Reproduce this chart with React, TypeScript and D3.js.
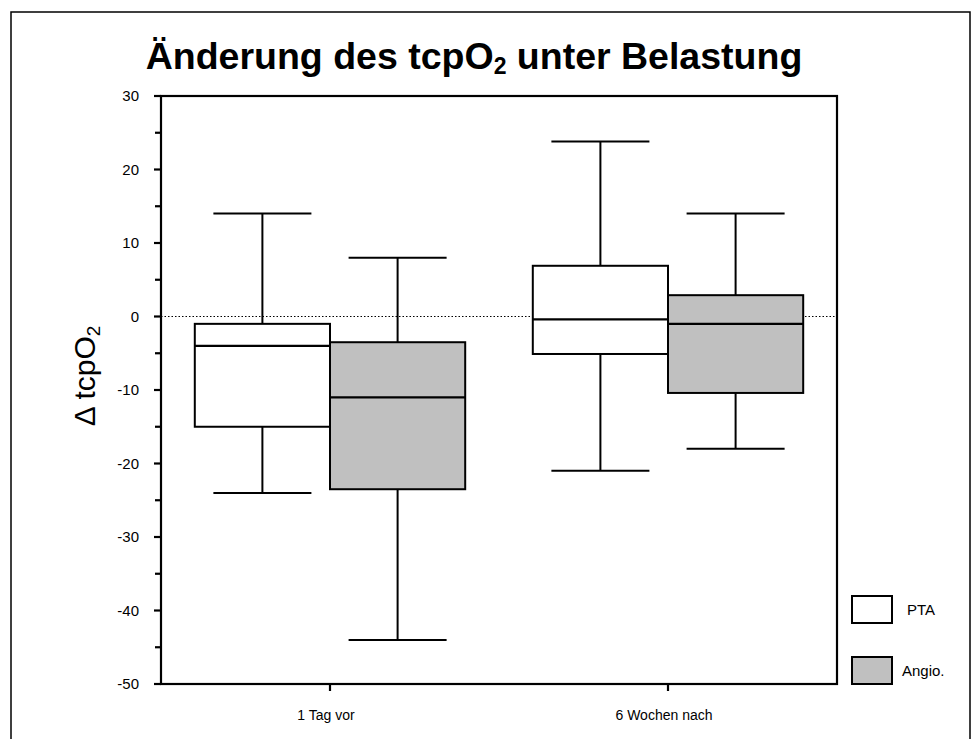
import React from "react";
import * as d3 from "d3";

const categories = ["1 Tag vor", "6 Wochen nach"];
const seriesNames = ["PTA", "Angio."];
const seriesFill = ["#ffffff", "#c0c0c0"];
// [whiskerLow, q1, median, q3, whiskerHigh] per category
const ptaStats = [
  [-24, -15, -4, -1, 14],
  [-21, -5.1, -0.4, 6.9, 23.8],
];
const angioStats = [
  [-44, -23.5, -11, -3.5, 8],
  [-18, -10.4, -1, 2.9, 14],
];
const yTicks = [30, 20, 10, 0, -10, -20, -30, -40, -50];
const yMinorTicks = [25, 15, 5, -5, -15, -25, -35, -45];

const W = 975;
const H = 739;
const M = { left: 161, right: 837, top: 96, bottom: 684 };
const FONT = "Liberation Sans, Arial, Helvetica, sans-serif";

export default function App() {
  const x0 = d3.scaleBand().domain(categories).range([M.left, M.right]).padding(0);
  const bw = x0.bandwidth();
  const x1 = d3.scaleBand().domain(seriesNames).range([bw * 0.1, bw * 0.9]).padding(0);
  const y = d3.scaleLinear().domain([-50, 30]).range([M.bottom, M.top]);
  const allStats = [ptaStats, angioStats];
  const boxW = x1.bandwidth();
  const capW = boxW * 0.725;

  return (
    <svg
      width={W}
      height={H}
      style={{ position: "absolute", left: 0, top: 0, fontFamily: FONT }}
    >
      <rect x={0} y={0} width={W} height={H} fill="#fff" />
      {/* outer frame */}
      <rect x={11} y={12} width={959} height={740} fill="none" stroke="#000" strokeWidth={1.5} />

      {/* title */}
      <text x={474} y={69} textAnchor="middle" fontSize={37.5} fontWeight="bold" fill="#000">
        Änderung des tcpO
        <tspan fontSize={23} dy={5}>2</tspan>
        <tspan dy={-5}> unter Belastung</tspan>
      </text>

      {/* zero line */}
      <line
        x1={M.left}
        x2={M.right}
        y1={y(0)}
        y2={y(0)}
        stroke="#000"
        strokeWidth={1}
        strokeDasharray="1.5,2"
      />

      {/* boxes */}
      {categories.map((cat, ci) =>
        seriesNames.map((s, si) => {
          const st = allStats[si][ci];
          const bx = (x0(cat) as number) + (x1(s) as number);
          const cx = bx + boxW / 2;
          return (
            <g key={cat + s}>
              <line x1={cx} x2={cx} y1={y(st[4])} y2={y(st[3])} stroke="#000" strokeWidth={2} />
              <line x1={cx} x2={cx} y1={y(st[1])} y2={y(st[0])} stroke="#000" strokeWidth={2} />
              <line x1={cx - capW / 2} x2={cx + capW / 2} y1={y(st[4])} y2={y(st[4])} stroke="#000" strokeWidth={2} />
              <line x1={cx - capW / 2} x2={cx + capW / 2} y1={y(st[0])} y2={y(st[0])} stroke="#000" strokeWidth={2} />
              <rect
                x={bx}
                y={y(st[3])}
                width={boxW}
                height={y(st[1]) - y(st[3])}
                fill={seriesFill[si]}
                stroke="#000"
                strokeWidth={2}
              />
              <line x1={bx} x2={bx + boxW} y1={y(st[2])} y2={y(st[2])} stroke="#000" strokeWidth={2.2} />
            </g>
          );
        })
      )}

      {/* plot frame */}
      <rect
        x={M.left}
        y={M.top}
        width={M.right - M.left}
        height={M.bottom - M.top}
        fill="none"
        stroke="#000"
        strokeWidth={2.2}
      />

      {/* y ticks */}
      {yTicks.map((t) => (
        <g key={"yt" + t}>
          <line x1={M.left - 7} x2={M.left} y1={y(t)} y2={y(t)} stroke="#000" strokeWidth={2.2} />
          <text x={139} y={y(t)} dy="0.35em" textAnchor="end" fontSize={15} fill="#000">
            {t}
          </text>
        </g>
      ))}
      {yMinorTicks.map((t) => (
        <line key={"ym" + t} x1={M.left - 6} x2={M.left} y1={y(t)} y2={y(t)} stroke="#000" strokeWidth={2.2} />
      ))}

      {/* x ticks */}
      {categories.map((cat) => {
        const cx = (x0(cat) as number) + bw / 2;
        return (
          <g key={"xt" + cat}>
            <line x1={cx} x2={cx} y1={M.bottom} y2={M.bottom + 7} stroke="#000" strokeWidth={2.2} />
            <text x={cx - 4} y={720} textAnchor="middle" fontSize={14} fill="#000">
              {cat}
            </text>
          </g>
        );
      })}

      {/* y label */}
      <text
        transform={`translate(95,376) rotate(-90)`}
        textAnchor="middle"
        fontSize={30}
        fill="#000"
      >
        Δ tcpO
        <tspan fontSize={19} dy={5}>2</tspan>
      </text>

      {/* legend */}
      {seriesNames.map((s, si) => {
        const ly = [596, 657][si];
        return (
          <g key={"lg" + s}>
            <rect x={852} y={ly} width={40} height={27} fill={seriesFill[si]} stroke="#000" strokeWidth={2} />
            <text x={si === 0 ? 907 : 902} y={ly + 19} fontSize={15} fill="#000">
              {s}
            </text>
          </g>
        );
      })}
    </svg>
  );
}
